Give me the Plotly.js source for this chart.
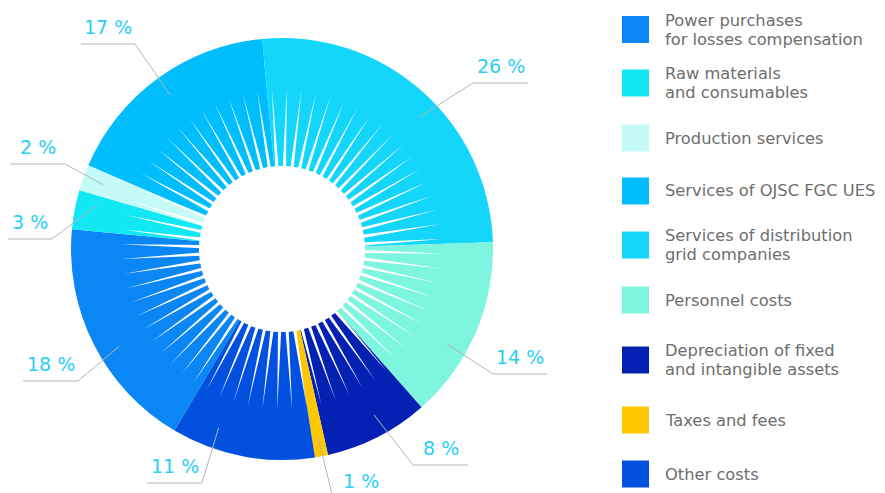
<!DOCTYPE html>
<html><head><meta charset="utf-8">
<script src="https://cdn.plot.ly/plotly-3.0.1.min.js"></script>
<style>html,body{margin:0;padding:0;background:#fff}#chart{width:885px;height:493px}</style>
</head><body><div id="chart"></div>
<script>
// ---------- data ----------
const categories = [
  'Power purchases<br>for losses compensation',
  'Raw materials<br>and consumables',
  'Production services',
  'Services of OJSC FGC UES',
  'Services of distribution<br>grid companies',
  'Personnel costs',
  'Depreciation of fixed<br>and intangible assets',
  'Taxes and fees',
  'Other costs'
];
const shares = [18, 3, 2, 17, 26, 14, 8, 1, 11];
const sliceColors = ['#0a87f5', '#12e8f4', '#c4fbf7', '#00bdfd', '#14d6fa', '#7ef6df', '#0322b3', '#ffc700', '#0250df'];

// ---------- layout constants (pixels) ----------
const W = 885, H = 493;
const CX = 282, CY = 249, R = 211;
const START_ANGLE = -149.4;            // degrees clockwise from 12 o'clock
const labelElbow = [[78,381],[52,239],[65,164],[135,44],[473,83],[493,374],[413,465],[333,498],[202,483]];
const labelSide = [-1,-1,-1,-1,1,1,1,1,-1];
const underlineLen = [55,44,55,54,55,54,55,55,55];
const anchorFrac = [0.44,0.74,0.5,0.5,0.55,0.63,0.43,0.5,0.72];
const legendRowY = [29.5, 83, 138, 191, 245, 300, 360, 420, 474];
const FONT = 'DejaVu Sans, Verdana, sans-serif';
const LABEL_COLOR = '#2bcff6';
const LEGEND_TEXT = '#6e6e6e';
const LINE_COLOR = '#b5b5b5';

const px = x => x / W;
const py = y => 1 - y / H;
const deg = Math.PI / 180;
const polar = (a, r) => [CX + r * Math.sin(a * deg), CY - r * Math.cos(a * deg)];

const total = shares.reduce((s, v) => s + v, 0);

const shapes = [];
const annotations = [];

// decorative white starburst in the centre
(function () {
  const N = 68, phase = 1.7, rBase = 76, rTip = 161, half = 1.3;
  let d = '';
  for (let k = 0; k < N; k++) {
    const a = phase + k * 360 / N;
    const p1 = polar(a - half, rBase), p2 = polar(a, rTip), p3 = polar(a + half, rBase);
    d += 'M' + px(p1[0]).toFixed(5) + ',' + py(p1[1]).toFixed(5) +
         'L' + px(p2[0]).toFixed(5) + ',' + py(p2[1]).toFixed(5) +
         'L' + px(p3[0]).toFixed(5) + ',' + py(p3[1]).toFixed(5) + 'Z';
  }
  shapes.push({type: 'path', xref: 'paper', yref: 'paper', path: d, fillcolor: '#ffffff', line: {width: 0}, layer: 'above'});
  const rc = 83;
  shapes.push({type: 'circle', xref: 'paper', yref: 'paper', x0: px(CX - rc), x1: px(CX + rc), y0: py(CY + rc), y1: py(CY - rc),
    fillcolor: '#ffffff', line: {width: 0}, layer: 'above'});
})();

// percent labels with leader lines
let cum = 0;
shares.forEach((v, i) => {
  const a0 = START_ANGLE + cum / total * 360;
  const a1 = START_ANGLE + (cum + v) / total * 360;
  cum += v;
  const am = a0 + (a1 - a0) * anchorFrac[i];
  const anc = polar(am, 0.9 * R);
  const el = labelElbow[i];
  const ux = el[0] + labelSide[i] * underlineLen[i];
  shapes.push({type: 'path', xref: 'paper', yref: 'paper', layer: 'above',
    path: 'M' + px(anc[0]) + ',' + py(anc[1]) + 'L' + px(el[0]) + ',' + py(el[1]) + 'L' + px(ux) + ',' + py(el[1]),
    line: {color: LINE_COLOR, width: 1}});
  annotations.push({xref: 'paper', yref: 'paper', x: px((el[0] + ux) / 2), y: py(el[1] - 17),
    xanchor: 'center', yanchor: 'middle', showarrow: false, text: v + ' %',
    font: {family: FONT, size: 19, color: LABEL_COLOR}});
});

// legend (square swatches + text); base font sets the line pitch
categories.forEach((c, i) => {
  const yc = legendRowY[i];
  shapes.push({type: 'rect', xref: 'paper', yref: 'paper', x0: px(622), x1: px(649), y0: py(yc + 13.5), y1: py(yc - 13.5),
    fillcolor: sliceColors[i], line: {width: 0}});
  const txt = c.split('<br>').map(t => '<span style="font-size:16.3px">' + t + '</span>').join('<br>');
  annotations.push({xref: 'paper', yref: 'paper', x: px(663), y: py(yc), xanchor: 'left', yanchor: 'middle',
    showarrow: false, text: txt, align: 'left', font: {family: FONT, size: 14.6, color: LEGEND_TEXT}});
});

const trace = {
  type: 'pie',
  labels: categories,
  values: shares,
  sort: false,
  direction: 'clockwise',
  rotation: START_ANGLE,
  marker: {colors: sliceColors, line: {width: 0}},
  textinfo: 'none',
  hoverinfo: 'label+percent',
  domain: {x: [px(CX - R), px(CX + R)], y: [py(CY + R), py(CY - R)]}
};

Plotly.newPlot('chart', [trace], {
  width: W, height: H,
  margin: {l: 0, r: 0, t: 0, b: 0},
  paper_bgcolor: '#ffffff',
  showlegend: false,
  shapes: shapes,
  annotations: annotations,
  font: {family: FONT}
}, {displayModeBar: false, staticPlot: true});
</script>
</body></html>
